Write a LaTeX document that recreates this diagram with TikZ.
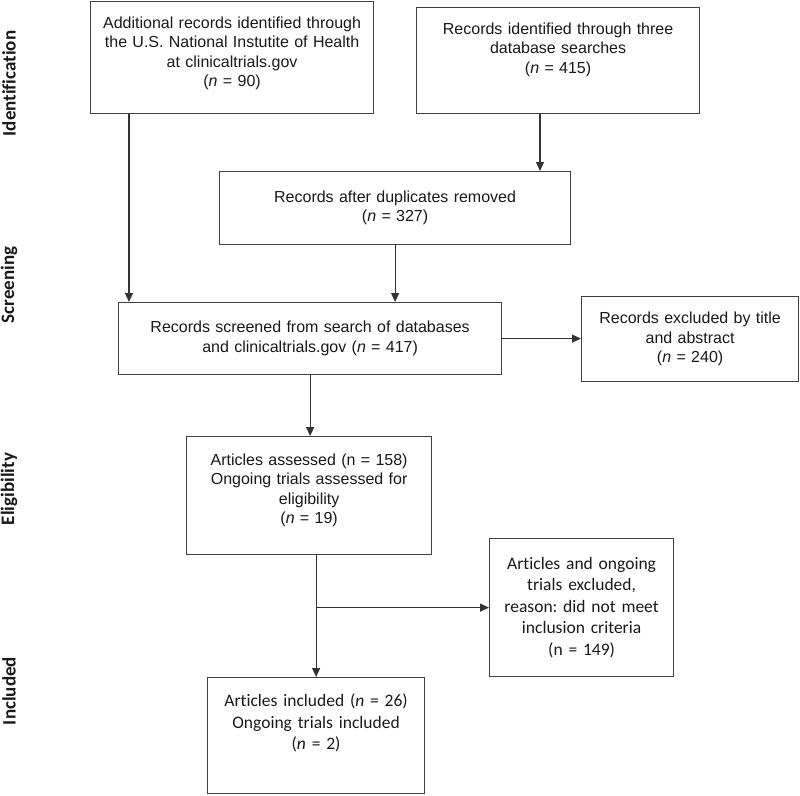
\documentclass[tikz,border=0pt]{standalone}
\usepackage{fontspec}
\setmainfont{Liberation Sans}
\newfontfamily\calibri[Ligatures=NoCommon]{Carlito}
\usetikzlibrary{arrows.meta}
\frenchspacing

\begin{document}
\begin{tikzpicture}[x=1pt, y=-1pt,
    record/.style ={draw=black!75, line width=1.2pt, anchor=north west, inner sep=0pt,
                    align=center, text=black!90, font=\fontsize{16}{19.5}\selectfont},
    included/.style ={record, font=\calibri\fontsize{17.5}{21.5}\selectfont},
    phase/.style ={rotate=90, text=black!90, font=\calibri\bfseries\fontsize{19}{22}\selectfont},
    flow/.style ={draw=black!80, line width=1.2pt, -{Triangle[length=9pt,width=8pt]}}]
   \useasboundingbox (0,0) rectangle (800,795);

   % stage labels
   \node[phase] (ident)  at (9,83.5)  {Identification};
   \node[phase] (screening)  at (9,285)  {Screening};
   \node[phase] (elig)  at (9,489)  {Eligibility};
   \node[phase] (incl)  at (9,691)  {Included};

   \node[record, minimum width=283pt, text width=273pt, text height=26.5pt, text depth=85.5pt] (add)  at (90,1)
      {Additional records identified through\\the U.S. National Instutite of Health\\at clinicaltrials.gov\\(\textit{n} = 90)};
   \node[record, minimum width=283pt, text width=273pt, text height=26.5pt, text depth=79.5pt] (db)  at (416,7)
      {Records identified through three\\database searches\\(\textit{n} = 415)};
   \node[record, minimum width=351pt, minimum height=73pt, text width=341pt] (dup)  at (219,171)
      {Records after duplicates removed\\(\textit{n} = 327)};
   \node[record, minimum width=383pt, minimum height=72pt, text width=373pt] (screened)  at (118,302)
      {Records screened from search of databases\\and clinicaltrials.gov (\textit{n} = 417)};
   \node[record, minimum width=217pt, minimum height=85pt, text width=207pt] (titleexcl)  at (581,296)
      {Records excluded by title\\and abstract\\(\textit{n} = 240)};
   \node[record, minimum width=245pt, text width=235pt, text height=28.5pt, text depth=89.5pt] (assessed)  at (186,436)
      {Articles assessed (n = 158)\\Ongoing trials assessed for\\eligibility\\(\textit{n} = 19)};
   \node[included, minimum width=184pt, minimum height=138pt, text width=174pt] (notmet)  at (489,538)
      {Articles and ongoing\\trials excluded,\\reason: did not meet\\inclusion criteria\\(n = 149)};
   \node[included, minimum width=217pt, text width=207pt, text height=29pt, text depth=87pt] (final)  at (207,677)
      {Articles included (\textit{n} = 26)\\Ongoing trials included\\(\textit{n} = 2)};

   \draw[flow] ([xshift=39pt]add.south west) to ([xshift=39pt]add.south west |- screened.north);
   \draw[flow] ([xshift=124pt]db.south west) to ([xshift=124pt]db.south west |- dup.north);
   \draw[flow] (dup.south) to (dup.south |- screened.north);
   \draw[flow] (screened.east) to (titleexcl.west |- screened.east);
   \draw[flow] (screened.south) to (screened.south |- assessed.north);
   \draw[flow] (assessed.south -| final.north) to (final.north);
   \draw[flow] (final.north |- notmet.west) to (notmet.west);

 \end{tikzpicture}
\end{document}
